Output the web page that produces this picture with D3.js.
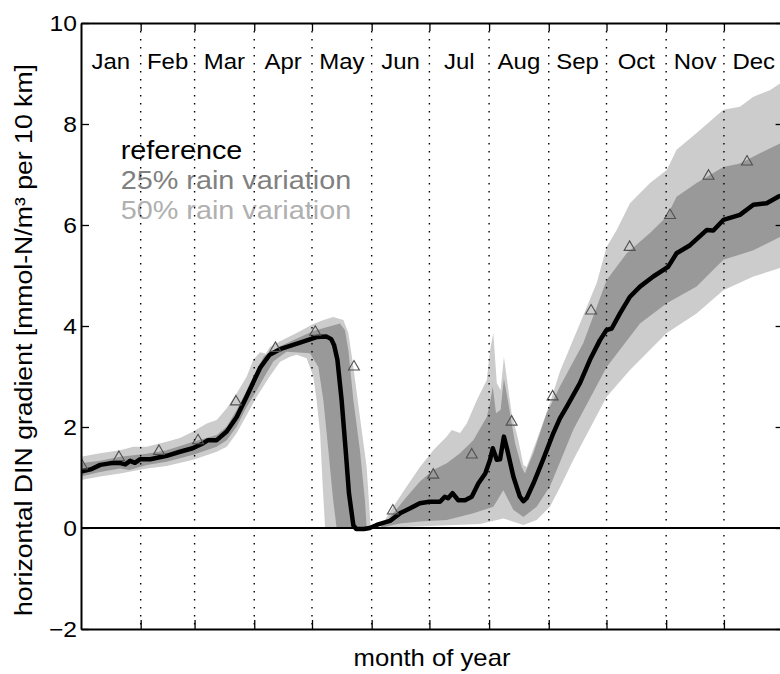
<!DOCTYPE html>
<html>
<head>
<meta charset="utf-8">
<script src="https://cdn.jsdelivr.net/npm/d3@7"></script>
<style>
  body { margin: 0; background: #fff; }
  svg { display: block; }
  text { font-family: "Liberation Sans", Arial, Helvetica, sans-serif; }
</style>
</head>
<body>
<svg id="chart" width="780" height="674"></svg>
<script>
// Month names and the day of year on which each month starts
const monthNames = ["Jan", "Feb", "Mar", "Apr", "May", "Jun", "Jul", "Aug", "Sep", "Oct", "Nov", "Dec"];
const monthStarts = [0, 31, 59, 90, 120, 151, 181, 212, 243, 273, 304, 334, 365];
const yTicks = [-2, 0, 2, 4, 6, 8, 10];

// Reference run: [day of year, DIN gradient]
const referenceRun = [
  [0, 1.12], [5, 1.16], [10, 1.25], [15, 1.28], [18, 1.29], [21, 1.28], [23, 1.26], [25.5, 1.33],
  [28, 1.29], [30.6, 1.36], [36, 1.36], [44.5, 1.43], [51.4, 1.51], [58, 1.58], [63.5, 1.68],
  [66, 1.74], [70.5, 1.74], [75.7, 1.91], [80.9, 2.2], [86, 2.6], [90.4, 2.96], [93, 3.17],
  [98, 3.43], [103.4, 3.54], [113.8, 3.67], [122.4, 3.78], [127.6, 3.79], [130, 3.74],
  [131.5, 3.62], [133.2, 3.33], [135.4, 2.53], [137.5, 1.54], [139.2, 0.69], [141.5, 0.05],
  [143, -0.02], [147, -0.02], [150, 0.0], [153.6, 0.06], [157, 0.1], [160.5, 0.14],
  [165.7, 0.29], [171, 0.39], [176, 0.49], [181, 0.52], [186.5, 0.52], [189, 0.62],
  [190.7, 0.59], [193, 0.69], [196, 0.55], [199.5, 0.55], [203, 0.62], [206.4, 0.88],
  [210, 1.08], [212.5, 1.35], [213.9, 1.58], [216, 1.35], [217.7, 1.36], [219.7, 1.81],
  [221.5, 1.54], [224.6, 1.02], [228, 0.62], [229.8, 0.53], [231.5, 0.59], [235, 0.88],
  [240, 1.35], [245.4, 1.88], [248.8, 2.17], [252.3, 2.4], [259.2, 2.87], [264.4, 3.33],
  [269.6, 3.72], [273, 3.92], [275.7, 3.95], [280, 4.25], [285.2, 4.58], [290.4, 4.78],
  [297.3, 4.98], [305, 5.17], [309.4, 5.44], [316.4, 5.6], [325, 5.9], [328.5, 5.89],
  [333.7, 6.1], [342.3, 6.2], [349.3, 6.4], [356.2, 6.43], [362.2, 6.56], [365, 6.6]
];

// Envelope of the runs with 50% rain variation
const rain50Upper = [
  [0, 1.41], [9.9, 1.48], [20.3, 1.54], [27.2, 1.61], [34.1, 1.61], [44.5, 1.71], [51.4, 1.78],
  [58.3, 1.91], [65.3, 2.07], [70.5, 2.14], [75.7, 2.37], [80.9, 2.67], [86.1, 3.0], [89.5, 3.33],
  [93, 3.48], [96, 3.45], [98, 3.58], [103.4, 3.7], [112, 3.86], [120.7, 4.04], [126, 4.12],
  [131, 4.18], [136.3, 4.12], [138.9, 3.86], [141.5, 3.19], [144.9, 2.2], [148.4, 1.21],
  [150.5, 0], [155.3, 0], [162.2, 0.42], [169.2, 0.82], [176.1, 1.21], [183, 1.54], [190, 1.81],
  [192.6, 1.94], [196.9, 1.88], [200.4, 2.07], [205.6, 2.53], [210.8, 2.93], [212.5, 3.52],
  [214.2, 3.86], [216, 2.87], [218, 2.73], [219.7, 3.39], [221.1, 3.0], [223.7, 2.27],
  [227.2, 1.74], [229.8, 1.25], [231.5, 1.21], [236.7, 1.74], [243.6, 2.47], [248.8, 3.1],
  [259.2, 4.05], [267.9, 4.85], [273.1, 5.57], [278.3, 5.9], [285.2, 6.43], [295.6, 6.83],
  [304.3, 7.09], [309.4, 7.49], [319.8, 7.82], [333.7, 8.28], [342.3, 8.34], [349.3, 8.54],
  [357.9, 8.67], [365, 8.85]
];
const rain50Lower = [
  [0, 0.95], [9.9, 1.02], [20.3, 1.08], [34.1, 1.18], [44.5, 1.23], [58.3, 1.35], [70.5, 1.51],
  [75.7, 1.61], [80.9, 1.88], [86.1, 2.24], [91.3, 2.6], [98, 3.0], [103.4, 3.29], [108.6, 3.39],
  [112, 3.43], [117.2, 3.36], [120.7, 3.0], [122.4, 2.53], [124.2, 1.88], [125.5, 0.88],
  [126.8, 0], [155.3, 0], [181.3, 0.04], [207.3, 0.08], [219.4, 0.19], [229.8, 0.06],
  [236.7, 0.16], [243.6, 0.42], [248.8, 0.8], [255.8, 1.35], [273.1, 2.6], [285.2, 3.13],
  [304.3, 3.86], [319.8, 4.25], [333.7, 4.71], [349.3, 4.98], [365, 5.17]
];

// Envelope of the runs with 25% rain variation
const rain25Upper = [
  [0, 1.28], [9.9, 1.33], [20.3, 1.41], [34.1, 1.47], [44.5, 1.54], [58.3, 1.71], [70.5, 1.84],
  [75.7, 2.01], [80.9, 2.34], [86.1, 2.73], [91.3, 3.13], [95, 3.4], [103.4, 3.6], [120.7, 3.9],
  [134.5, 4.05], [137.1, 3.92], [138.9, 3.52], [141.5, 2.53], [144.9, 1.54], [147.5, 0.55],
  [148.4, 0], [155.3, 0], [162.2, 0.29], [169.2, 0.62], [176.1, 0.92], [183, 1.15], [190, 1.28],
  [196.9, 1.48], [203.8, 1.74], [210.8, 2.2], [212.5, 2.47], [213.9, 2.8], [215.6, 2.27],
  [218, 2.34], [219.7, 2.96], [222, 2.47], [225.5, 1.68], [228.9, 1.21], [230.6, 1.08],
  [235, 1.48], [241.9, 2.27], [248.8, 2.8], [260.9, 3.66], [273.1, 4.91], [283.5, 5.44],
  [295.6, 5.84], [304.3, 6.17], [309.4, 6.56], [319.8, 6.83], [333.7, 7.15], [342.3, 7.22],
  [352.7, 7.42], [365, 7.65]
];
const rain25Lower = [
  [0, 1.02], [9.9, 1.11], [20.3, 1.18], [25.1, 1.15], [34.1, 1.25], [44.5, 1.31], [58.3, 1.45],
  [70.5, 1.61], [75.7, 1.74], [80.9, 2.01], [86.1, 2.4], [91.3, 2.73], [95, 2.98], [100, 3.3],
  [106.8, 3.49], [119, 3.46], [123.3, 3.19], [125.9, 2.53], [128.5, 1.54], [131, 0.55],
  [132.8, 0], [155.3, 0], [165.7, 0.09], [176.1, 0.13], [190, 0.16], [203.8, 0.29], [214.2, 0.42],
  [219.4, 0.75], [224.6, 0.36], [229.8, 0.22], [236.7, 0.42], [243.6, 0.82], [248.8, 1.3],
  [255.8, 1.95], [273.1, 3.19], [290.4, 4.05], [304.3, 4.45], [319.8, 4.78], [333.7, 5.31],
  [349.3, 5.5], [365, 5.8]
];

// Observed gradients
const observed = [
  [0.5, 1.23], [19.7, 1.4], [40.5, 1.52], [60.8, 1.73], [80.5, 2.5], [101, 3.56], [121.7, 3.88],
  [141.8, 3.19], [162, 0.34], [183, 1.05], [203, 1.45], [223.7, 2.1], [245, 2.6], [265, 4.3],
  [285, 5.56], [306, 6.19], [326, 6.97], [346, 7.25]
];

const legendLabels = ["reference", "25% rain variation", "50% rain variation"];
const legendColors = ["#000000", "#808080", "#b0b0b0"];

const svg = d3.select("#chart");
const plotLeft = 81, plotRight = 783.6, plotTop = 23, plotBottom = 629;
const x = d3.scaleLinear().domain([0, 365]).range([plotLeft, plotRight]);
const y = d3.scaleLinear().domain([-2, 10]).range([plotBottom, plotTop]);

svg.append("defs").append("clipPath").attr("id", "plotClip")
  .append("rect").attr("x", plotLeft).attr("y", plotTop)
  .attr("width", plotRight - plotLeft).attr("height", plotBottom - plotTop);

const plot = svg.append("g").attr("clip-path", "url(#plotClip)");
const line = d3.line().x(d => x(d[0])).y(d => y(d[1]));
const band = (upper, lower) => line(upper.concat(lower.slice().reverse())) + "Z";

plot.append("path").attr("d", band(rain50Upper, rain50Lower)).attr("fill", "#cccccc");
plot.append("path").attr("d", band(rain25Upper, rain25Lower)).attr("fill", "#999999");

// zero line
plot.append("line").attr("x1", plotLeft).attr("x2", plotRight).attr("y1", y(0)).attr("y2", y(0))
  .attr("stroke", "#000").attr("stroke-width", 2);

plot.append("path").attr("d", line(referenceRun)).attr("fill", "none")
  .attr("stroke", "#000").attr("stroke-width", 4.5).attr("stroke-linejoin", "round");

plot.selectAll("path.obs").data(observed).join("path").attr("class", "obs")
  .attr("d", d3.symbol(d3.symbolTriangle).size(52))
  .attr("transform", d => `translate(${x(d[0])},${y(d[1])})`)
  .attr("fill", "none").attr("stroke", "#505050").attr("stroke-width", 1.1);

// horizontally widened text helper
function label(parent, tx, ty, str, size, sx, anchor, fill, rot) {
  return parent.append("text")
    .attr("transform", `translate(${tx},${ty})` + (rot ? ` rotate(${rot})` : "") + ` scale(${sx},1)`)
    .attr("text-anchor", anchor).attr("font-size", size).attr("fill", fill).text(str);
}

// legend
const legend = svg.append("g");
legendLabels.forEach((t, i) => label(legend, 120.7, 159 + i * 30, t, 25.5, 1.13, "start", legendColors[i]));

// month labels
monthNames.forEach((m, i) => label(svg, x((monthStarts[i] + monthStarts[i + 1]) / 2), 69, m, 22, 1.09, "middle", "#000"));

// dotted month grid
svg.append("g").selectAll("line").data(monthStarts.slice(1, 12)).join("line")
  .attr("x1", d => x(d)).attr("x2", d => x(d)).attr("y1", plotTop).attr("y2", plotBottom)
  .attr("stroke", "#000").attr("stroke-width", 1.4).attr("stroke-dasharray", "1.6,6.4");

// axes
const monthTicks = monthStarts.slice(1, 12);
const gBottom = svg.append("g").attr("transform", `translate(0,${plotBottom})`)
  .call(d3.axisBottom(x).tickValues(monthTicks).tickSize(-9).tickSizeOuter(0).tickFormat(""));
const gTop = svg.append("g").attr("transform", `translate(0,${plotTop})`)
  .call(d3.axisTop(x).tickValues(monthTicks).tickSize(-8).tickSizeOuter(0).tickFormat(""));
const gLeft = svg.append("g").attr("transform", `translate(${plotLeft},0)`)
  .call(d3.axisLeft(y).tickValues(yTicks).tickSize(-8).tickSizeOuter(0).tickFormat(d3.format("d")));
const gRight = svg.append("g").attr("transform", `translate(${plotRight},0)`)
  .call(d3.axisRight(y).tickValues(yTicks).tickSize(-8).tickSizeOuter(0).tickFormat(""));

[gBottom, gTop, gLeft, gRight].forEach(g => {
  g.select(".domain").attr("stroke", "#000").attr("stroke-width", 2);
  g.selectAll(".tick line").attr("stroke", "#000").attr("stroke-width", 1.3);
});
gLeft.attr("font-size", 22).attr("font-family", null);
gLeft.selectAll(".tick text").attr("x", 0).attr("dy", "0.36em").attr("fill", "#000")
  .attr("transform", "translate(-4,0) scale(1.12,1)");

// axis titles
label(svg, 432, 665.5, "month of year", 24, 1.07, "middle", "#000");
label(svg, 32, 340, "horizontal DIN gradient [mmol-N/m\u00b3 per 10 km]", 24, 1.11, "middle", "#000", -90);
</script>
</body>
</html>
